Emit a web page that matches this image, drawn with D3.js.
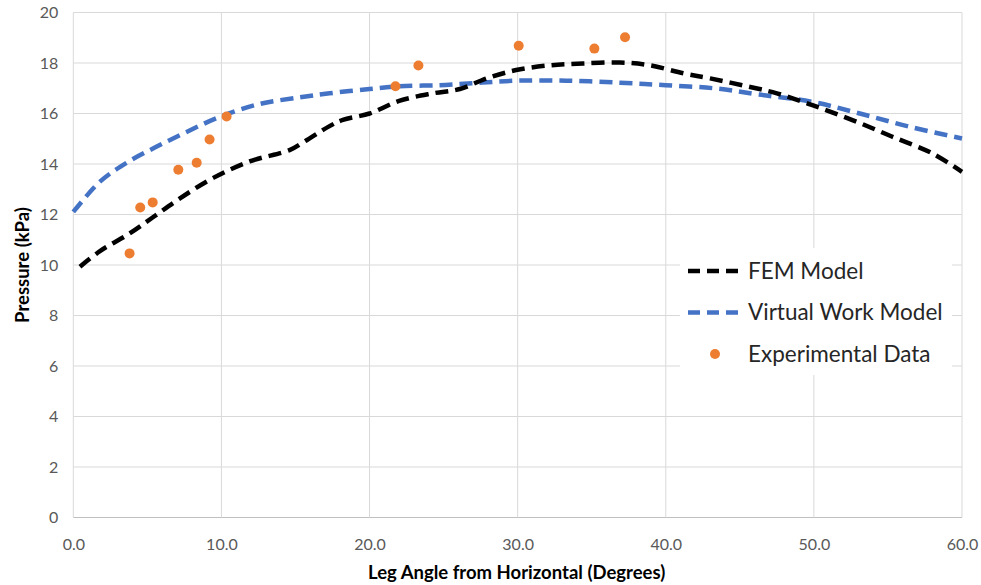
<!DOCTYPE html>
<html><head><meta charset="utf-8">
<script src="https://cdn.jsdelivr.net/npm/d3@7"></script>
<style>body{margin:0;background:#fff}svg{display:block}</style>
</head><body>
<svg id="c" width="981" height="585"></svg>
<script>
const xTicks = [0,10,20,30,40,50,60];
const yTicks = [0,2,4,6,8,10,12,14,16,18,20];
const femX = [0.45,1.8,3.8,5.4,7.2,9.45,11.9,14.6,15.5,17.3,18.2,20.0,22.0,24.3,26.1,27.9,29.9,32.2,34.4,36.9,38.9,41.2,43.0,45.7,47.5,49.9,52.6,55.3,58.0,60.0];
const femY = [9.93,10.55,11.25,11.9,12.64,13.45,14.1,14.55,14.85,15.5,15.75,16.0,16.5,16.8,16.97,17.39,17.72,17.91,17.98,18.02,17.91,17.59,17.39,17.05,16.8,16.33,15.74,15.08,14.42,13.69];
const vwX = [0,1.8,3.6,5.6,7.65,9.9,12.6,15.3,17.3,20.0,22.0,24.7,27.2,29.9,33.3,36.9,40.0,43.4,46.3,49.9,53.1,56.5,60.0];
const vwY = [12.1,13.3,14.05,14.68,15.27,15.87,16.38,16.64,16.8,16.97,17.08,17.12,17.21,17.3,17.3,17.22,17.12,16.99,16.75,16.46,16.0,15.47,15.01];
const expX = [3.8,4.52,5.36,7.09,8.33,9.2,10.35,21.75,23.3,30.07,35.18,37.25];
const expY = [10.46,12.28,12.48,13.77,14.05,14.97,15.88,17.08,17.9,18.68,18.57,19.02];

const svg = d3.select('#c');
const x = d3.scaleLinear().domain([0,60]).range([73.3,962]);
const y = d3.scaleLinear().domain([0,20]).range([517.5,12.5]);
const font = 'Lato, "Open Sans", sans-serif';

// grid
svg.append('g').selectAll('line.h').data(yTicks).join('line')
  .attr('x1',x(0)).attr('x2',x(60)).attr('y1',d=>y(d)).attr('y2',d=>y(d))
  .attr('stroke',d=>d===0?'#bfbfbf':'#d9d9d9').attr('stroke-width',1);
svg.append('g').selectAll('line.v').data(xTicks).join('line')
  .attr('y1',y(0)).attr('y2',y(20)).attr('x1',d=>x(d)).attr('x2',d=>x(d))
  .attr('stroke','#d9d9d9').attr('stroke-width',1);

// axes labels
const xAxis = d3.axisBottom(x).tickValues(xTicks).tickFormat(d3.format('.1f')).tickSize(0).tickPadding(21);
const gx = svg.append('g').attr('transform',`translate(0,${y(0)})`).call(xAxis);
gx.select('.domain').remove();
gx.selectAll('text').attr('fill','#595959').style('font-family',font).style('font-size','16px');
const yAxis = d3.axisLeft(y).tickValues(yTicks).tickFormat(d3.format('d')).tickSize(0).tickPadding(15);
const gy = svg.append('g').attr('transform',`translate(${x(0)},0)`).call(yAxis);
gy.select('.domain').remove();
gy.selectAll('text').attr('fill','#595959').style('font-family',font).style('font-size','16px');

// lines
const line = d3.line().x(d=>x(d[0])).y(d=>y(d[1])).curve(d3.curveCatmullRom.alpha(0.5));
svg.append('path').datum(vwX.map((v,i)=>[v,vwY[i]])).attr('d',line)
  .attr('fill','none').attr('stroke','#4472C4').attr('stroke-width',4.5).attr('stroke-dasharray','13,7');
svg.append('path').datum(femX.map((v,i)=>[v,femY[i]])).attr('d',line)
  .attr('fill','none').attr('stroke','#000').attr('stroke-width',4.5).attr('stroke-dasharray','13,7');
svg.append('g').selectAll('circle').data(expX.map((v,i)=>[v,expY[i]])).join('circle')
  .attr('cx',d=>x(d[0])).attr('cy',d=>y(d[1])).attr('r',5).attr('fill','#ED7D31');

// axis titles
svg.append('text').attr('x',(x(0)+x(60))/2 - 1).attr('y',579).attr('text-anchor','middle')
  .style('font-family',font).style('font-weight','bold').style('font-size','18.5px').attr('fill','#000')
  .text('Leg Angle from Horizontal (Degrees)');
svg.append('text').attr('transform',`translate(29,${y(10)}) rotate(-90)`).attr('text-anchor','middle')
  .style('font-family',font).style('font-weight','bold').style('font-size','18.5px').attr('fill','#000')
  .text('Pressure (kPa)');

// legend
const lg = svg.append('g');
lg.append('rect').attr('x',680).attr('y',248).attr('width',272).attr('height',127).attr('fill','#fff');
const items = [{n:'FEM Model',c:'#000',t:'line',y:271},{n:'Virtual Work Model',c:'#4472C4',t:'line',y:312.5},{n:'Experimental Data',c:'#ED7D31',t:'dot',y:354}];
items.forEach(it=>{
  if(it.t==='line'){
    lg.append('line').attr('x1',688).attr('x2',740).attr('y1',it.y).attr('y2',it.y)
      .attr('stroke',it.c).attr('stroke-width',4.5).attr('stroke-dasharray','12,7');
  } else {
    lg.append('circle').attr('cx',715).attr('cy',it.y).attr('r',5).attr('fill',it.c);
  }
  lg.append('text').attr('x',748).attr('y',it.y).attr('dy','0.35em')
    .style('font-family',font).style('font-size','22.5px').attr('fill','#262626').text(it.n);
});
</script>
</body></html>
